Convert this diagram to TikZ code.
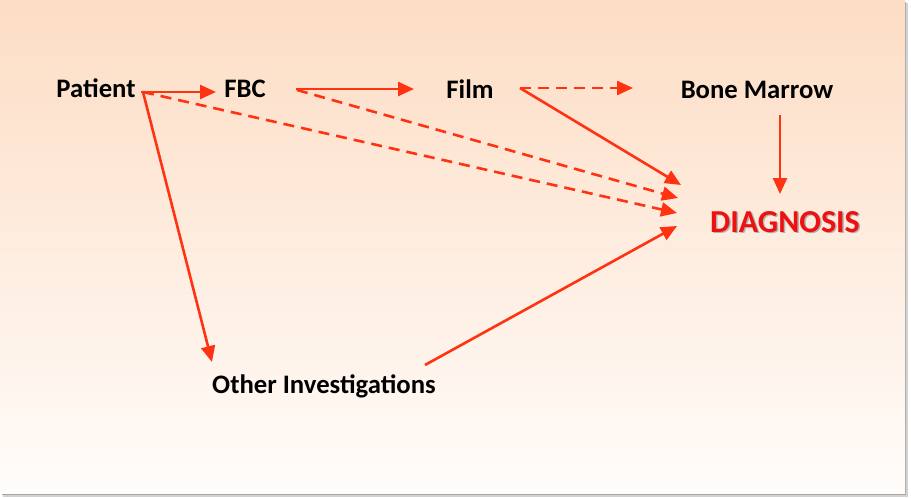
\documentclass[tikz,border=0pt]{standalone}
\usepackage{fontspec}
\setmainfont{Carlito}
\usetikzlibrary{arrows.meta,calc}
\definecolor{arr}{HTML}{FF3312}
\definecolor{diagred}{HTML}{EE1111}
\definecolor{peachtop}{HTML}{FDDDC4}
\definecolor{peachbot}{HTML}{FFFCFA}
\tikzset{
  lbl/.style={font=\bfseries\fontsize{26.7}{30}\selectfont, inner sep=0pt, anchor=base, text=black},
  big/.style={lbl, font=\bfseries\fontsize{32}{36}\selectfont},
  conn/.style={draw=arr, line width=2.6pt, -{Triangle[length=16pt,width=14pt]}},
  dconn/.style={conn, dash pattern=on 11pt off 7pt},
}
\begin{document}
\begin{tikzpicture}[x=1pt,y=-1pt]
\useasboundingbox (0,0) rectangle (911,498);
\fill[white] (0,0) rectangle (911,498);
\fill[gray!35] (3,3) rectangle (908,497);
\fill[gray!70] (2,2) rectangle (906,495);
\shade[top color=peachtop, bottom color=peachbot] (0,0) rectangle (905,493);
% nodes
\node[lbl] (patient) at (96,97) {Patient};
\node[lbl] (fbc) at (245,97) {FBC};
\node[lbl] (film) at (470,98) {Film};
\node[lbl] (bm) at (757,98) {Bone Marrow};
\node[lbl] (other) at (324,393) {Other Investigations};
\node[big, text=black!30] (diagshadow) at (786.5,233.5) {DIAGNOSIS};
\node[big, text=diagred] (diag) at (785,232) {DIAGNOSIS};
% connectors
\draw[conn] ($(patient.base)+(45,-5)$) -- ($(fbc.base)+(-29,-5)$);
\draw[conn] ($(patient.base)+(47,-5)$) -- ($(other.base)+(-112,-31)$);
\draw[dconn] ($(patient.base)+(47,-5)$) -- ($(diag.base)+(-108,-19)$);
\draw[conn] ($(fbc.base)+(51,-8)$) -- ($(film.base)+(-56,-9)$);
\draw[dconn] ($(fbc.base)+(52,-7)$) -- ($(diag.base)+(-107,-34)$);
\draw[dconn] ($(film.base)+(50,-10)$) -- ($(bm.base)+(-124,-10)$);
\draw[conn] ($(film.base)+(50,-10)$) -- ($(diag.base)+(-104,-47)$);
\draw[conn] ($(bm.base)+(23,17)$) -- ($(diag.base)+(-5,-38)$);
\draw[conn] ($(other.base)+(101,-28)$) -- ($(diag.base)+(-108,-6)$);
\end{tikzpicture}
\end{document}
